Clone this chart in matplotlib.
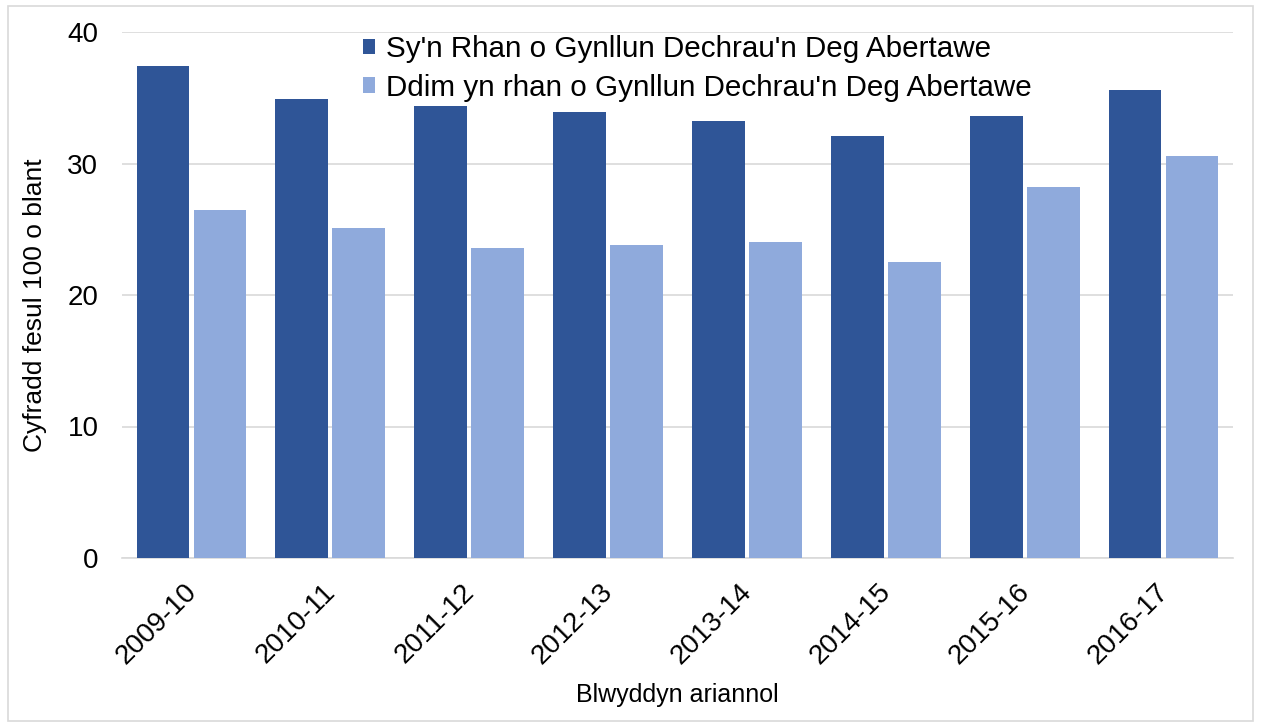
import numpy as np
import matplotlib.pyplot as plt
import matplotlib.transforms as mtransforms
from matplotlib.patches import Rectangle

plt.rcParams['font.family'] = ['Liberation Sans', 'DejaVu Sans']

# Data
years = ['2009-10', '2010-11', '2011-12', '2012-13', '2013-14', '2014-15', '2015-16', '2016-17']
in_scheme = [37.4, 34.9, 34.4, 33.9, 33.2, 32.1, 33.6, 35.6]
not_in_scheme = [26.5, 25.1, 23.6, 23.8, 24.0, 22.5, 28.2, 30.6]
labels = ["Sy'n Rhan o Gynllun Dechrau'n Deg Abertawe",
          "Ddim yn rhan o Gynllun Dechrau'n Deg Abertawe"]

W, H = 1261, 727
fig = plt.figure(figsize=(W / 100, H / 100), dpi=100)
# plot area in pixels: x 122..1233, y 32..558
ax = fig.add_axes([122 / W, 1 - 558 / H, (1233 - 122) / W, (558 - 32) / H])

# thin grey frame round the whole figure
fig.patches.append(Rectangle((0.006, 0.008), 0.988, 0.984, transform=fig.transFigure,
                             fill=False, edgecolor='#d9d9d9', linewidth=1.2))

x = np.arange(len(years))
w = 0.38
ax.bar(x - 0.205, in_scheme, w, color='#2f5597', label=labels[0], zorder=3)
ax.bar(x + 0.205, not_in_scheme, w, color='#8faadc', label=labels[1], zorder=3)

ax.set_xlim(-0.5, len(years) - 0.5)
ax.set_ylim(0, 40)
ax.set_yticks([0, 10, 20, 30, 40])
ax.grid(axis='y', color='#d9d9d9', linewidth=1.2, zorder=0)
for s in ['top', 'right', 'left']:
    ax.spines[s].set_visible(False)
ax.spines['bottom'].set_color('#d9d9d9')
ax.spines['bottom'].set_linewidth(1.2)
ax.tick_params(axis='both', length=0, labelsize=20, colors='black')
ax.tick_params(axis='y', pad=17)
ax.tick_params(axis='x', pad=15)
ax.set_xticks(x)
ax.set_xticklabels(years, rotation=45, ha='right', rotation_mode='anchor')
# nudge the slanted year labels a little to the left
shift = mtransforms.ScaledTranslation(-8 / 100, 0, fig.dpi_scale_trans)
for lbl in ax.get_xticklabels():
    lbl.set_transform(lbl.get_transform() + shift)

ax.set_ylabel('Cyfradd fesul 100 o blant', fontsize=19)
ax.yaxis.set_label_coords(-0.0675, 0.48)
ax.set_xlabel('Blwyddyn ariannol', fontsize=18)
ax.xaxis.set_label_coords(0.5, -0.237)

ax.legend(loc='upper left', bbox_to_anchor=(0.217, 0.994), frameon=False, fontsize=21.3,
          borderpad=0, borderaxespad=0,
          handlelength=0.41, handleheight=0.41, handletextpad=0.35, labelspacing=0.35)

fig.savefig('out.png', dpi=100)
